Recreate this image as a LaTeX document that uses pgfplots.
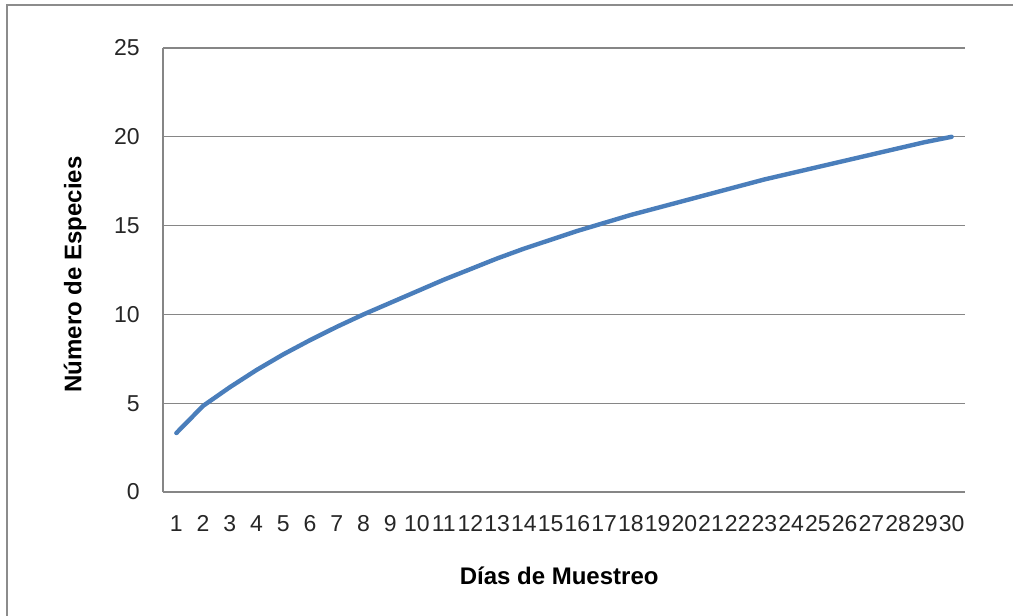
\documentclass[border=0pt]{standalone}
\usepackage{pgfplots}
\pgfplotsset{compat=1.18}
\usepackage{fontspec}
\setmainfont{Liberation Sans}
\definecolor{gridgray}{HTML}{868686}
\definecolor{lineblue}{HTML}{4A7EBB}
\definecolor{bordergray}{HTML}{8C8C8C}
\begin{document}
\begin{tikzpicture}
\useasboundingbox (-81.5pt,-62pt) rectangle (425pt,246pt);
\draw[bordergray, line width=1pt] (-78pt,-63pt) -- (-78pt,243.5pt) -- (426pt,243.5pt);
\begin{axis}[
  at={(0pt,0pt)}, anchor=south west,
  scale only axis, width=401pt, height=222pt,
  xmin=0.5, xmax=30.5, ymin=0, ymax=25,
  xtick={1,...,30},
  ytick={0,5,10,15,20,25},
  major tick length=0pt,
  axis x line=bottom, axis y line=left,
  axis line style={-, gridgray, line width=0.6pt},
  ymajorgrids, grid style={gridgray, line width=0.6pt},
  /pgf/number format/assume math mode=true,
  tick label style={font=\fontsize{11.5pt}{13pt}\selectfont, text=black!85},
  yticklabel style={inner sep=0pt, anchor=east, xshift=-11.5pt},
  xticklabel style={inner sep=0pt, anchor=north, yshift=-11.5pt},
  xlabel={\textbf{Días de Muestreo}},
  ylabel={\textbf{Número de Especies}},
  label style={font=\fontsize{12pt}{14pt}\selectfont},
  xlabel style={at={(axis description cs:0.494,-0.189)}, anchor=center},
  ylabel style={at={(axis description cs:-0.1097,0.49)}, anchor=center, rotate=0},
  clip=false,
]
\addplot[lineblue, line width=2.2pt, line cap=round, line join=round, mark=none] coordinates {
(1,3.32) (2,4.85) (3,5.9) (4,6.87) (5,7.75) (6,8.55) (7,9.3) (8,10.0) (9,10.65) (10,11.3)
(11,11.95) (12,12.55) (13,13.15) (14,13.7) (15,14.2) (16,14.7) (17,15.15) (18,15.6) (19,16.0) (20,16.4)
(21,16.8) (22,17.2) (23,17.6) (24,17.95) (25,18.3) (26,18.65) (27,19.0) (28,19.35) (29,19.7) (30,20.0)
};
\end{axis}
\end{tikzpicture}
\end{document}
